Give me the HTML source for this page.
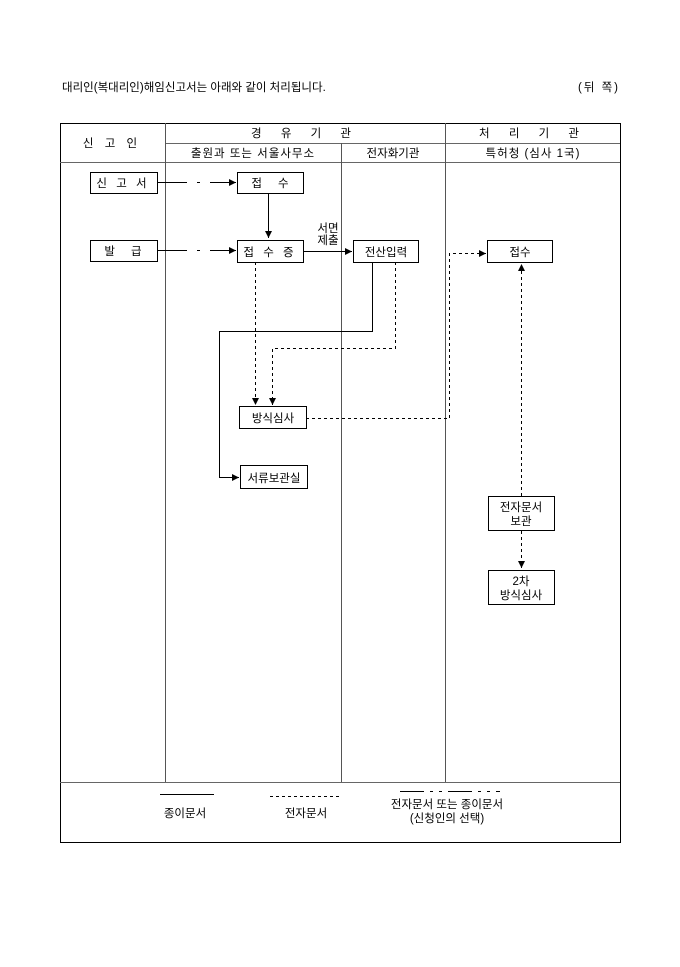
<!DOCTYPE html>
<html><head><meta charset="utf-8"><style>
body{margin:0;background:#fff;}
svg text{font-family:"Liberation Sans","Noto Sans CJK KR","NanumGothic",sans-serif;font-size:11.5px;fill:#000;}
</style></head><body>
<svg width="680" height="962" viewBox="0 0 680 962" xmlns="http://www.w3.org/2000/svg">
<defs><marker id="a" markerWidth="8" markerHeight="8" refX="7" refY="4" orient="auto" markerUnits="userSpaceOnUse"><path d="M0,0.5 L7,4 L0,7.5z" fill="#000"/></marker></defs>
<text x="62" y="91" font-size="11">대리인(복대리인)해임신고서는 아래와 같이 처리됩니다.</text>
<text x="578" y="91" font-size="11" letter-spacing="2">(뒤 쪽)</text>
<g stroke="#000" fill="none" stroke-width="1">
<rect x="60.5" y="123.5" width="560" height="719"/>
<line x1="165.5" y1="143.5" x2="620" y2="143.5" stroke="#666"/>
<line x1="60" y1="162.5" x2="620" y2="162.5" stroke="#666"/>
<line x1="60" y1="782.5" x2="620" y2="782.5" stroke="#666"/>
<line x1="165.5" y1="123" x2="165.5" y2="782" stroke="#555"/>
<line x1="341.5" y1="143" x2="341.5" y2="782" stroke="#555"/>
<line x1="445.5" y1="123" x2="445.5" y2="782" stroke="#555"/>
<rect x="90.5" y="172.5" width="67" height="21"/>
<rect x="237.5" y="172.5" width="66" height="21"/>
<rect x="90.5" y="240.5" width="67" height="21"/>
<rect x="237.5" y="240.5" width="66" height="22"/>
<rect x="353.5" y="240.5" width="65" height="22"/>
<rect x="487.5" y="240.5" width="65" height="22"/>
<rect x="239.5" y="406.5" width="67" height="22"/>
<rect x="240.5" y="465.5" width="67" height="23"/>
<rect x="488.5" y="496.5" width="66" height="34"/>
<rect x="488.5" y="570.5" width="66" height="34"/>
<line x1="157" y1="182.5" x2="236" y2="182.5" stroke-dasharray="30,10,3,10,30" marker-end="url(#a)"/>
<line x1="157" y1="250.5" x2="236" y2="250.5" stroke-dasharray="30,10,3,10,30" marker-end="url(#a)"/>
<line x1="268.5" y1="193" x2="268.5" y2="238" marker-end="url(#a)"/>
<line x1="303" y1="251.5" x2="352" y2="251.5" marker-end="url(#a)"/>
<polyline points="372.5,262 372.5,331.5 219.5,331.5 219.5,477.5 239,477.5" marker-end="url(#a)"/>
<line x1="255.5" y1="262" x2="255.5" y2="405" stroke-dasharray="3,3" marker-end="url(#a)"/>
<polyline points="395.5,262 395.5,348.5 272.5,348.5 272.5,405" stroke-dasharray="3,3" marker-end="url(#a)"/>
<polyline points="306,418.5 449.5,418.5 449.5,253.5 486,253.5" stroke-dasharray="3,3" marker-end="url(#a)"/>
<line x1="521.5" y1="496" x2="521.5" y2="264" stroke-dasharray="3,3" marker-end="url(#a)"/>
<line x1="521.5" y1="531" x2="521.5" y2="568" stroke-dasharray="3,3" marker-end="url(#a)"/>
<line x1="160" y1="794.5" x2="214" y2="794.5"/>
<line x1="270" y1="796.5" x2="342" y2="796.5" stroke-dasharray="3,3"/>
<line x1="400" y1="791.5" x2="500" y2="791.5" stroke-dasharray="24,6,3,6,3,6"/>
</g>
<g text-anchor="middle">
<text x="112" y="147" letter-spacing="4">신 고 인</text>
<text x="305" y="137" letter-spacing="8">경 유 기 관</text>
<text x="533" y="137" letter-spacing="8">처 리 기 관</text>
<text x="253" y="157" letter-spacing="1">출원과 또는 서울사무소</text>
<text x="393" y="157">전자화기관</text>
<text x="533" y="157" letter-spacing="1">특허청 (심사 1국)</text>
<text x="123" y="187" letter-spacing="3">신 고 서</text>
<text x="270" y="187">접 &#160; &#160; 수</text>
<text x="123" y="255">발 &#160; &#160; 급</text>
<text x="270" y="256" letter-spacing="3">접 수 증</text>
<text x="386" y="256">전산입력</text>
<text x="520" y="256">접수</text>
<text x="328" y="232" font-size="10">서면</text>
<text x="328" y="244" font-size="10">제출</text>
<text x="273" y="422">방식심사</text>
<text x="274" y="482">서류보관실</text>
<text x="521" y="511">전자문서</text>
<text x="521" y="525">보관</text>
<text x="521" y="585">2차</text>
<text x="521" y="599">방식심사</text>
<text x="185" y="817">종이문서</text>
<text x="306" y="817">전자문서</text>
<text x="447" y="808">전자문서 또는 종이문서</text>
<text x="447" y="822">(신청인의 선택)</text>
</g>
</svg>
</body></html>
